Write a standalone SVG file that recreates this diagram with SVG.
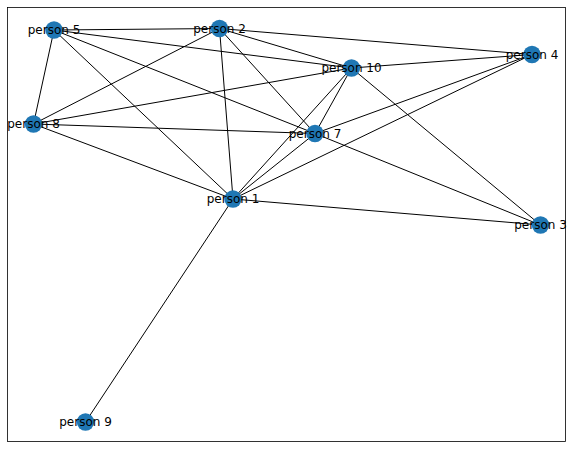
<svg xmlns="http://www.w3.org/2000/svg" width="572" height="449" viewBox="0 0 572 449">
<style>
.e{stroke:#000;stroke-width:1;fill:none}
.n circle{fill:#1f77b4}
.n text{font-family:"DejaVu Sans",sans-serif;font-size:12px;fill:#000;text-anchor:middle;dominant-baseline:central}
</style>
<rect x="0" y="0" width="572" height="449" fill="#fff"/>
<rect x="7.5" y="7.5" width="558" height="434" fill="none" stroke="#000" stroke-width="0.8"/>
<g id="edges">
<line class="e" x1="54" y1="30" x2="219.5" y2="28.5"/>
<line class="e" x1="54" y1="30" x2="351.5" y2="68"/>
<line class="e" x1="54" y1="30" x2="315" y2="133.5"/>
<line class="e" x1="54" y1="30" x2="33.5" y2="124"/>
<line class="e" x1="54" y1="30" x2="233" y2="199"/>
<line class="e" x1="219.5" y1="28.5" x2="532" y2="54.5"/>
<line class="e" x1="219.5" y1="28.5" x2="351.5" y2="68"/>
<line class="e" x1="219.5" y1="28.5" x2="315" y2="133.5"/>
<line class="e" x1="219.5" y1="28.5" x2="233" y2="199"/>
<line class="e" x1="219.5" y1="28.5" x2="33.5" y2="124"/>
<line class="e" x1="33.5" y1="124" x2="351.5" y2="68"/>
<line class="e" x1="33.5" y1="124" x2="315" y2="133.5"/>
<line class="e" x1="33.5" y1="124" x2="233" y2="199"/>
<line class="e" x1="351.5" y1="68" x2="532" y2="54.5"/>
<line class="e" x1="351.5" y1="68" x2="315" y2="133.5"/>
<line class="e" x1="351.5" y1="68" x2="233" y2="199"/>
<line class="e" x1="351.5" y1="68" x2="540.5" y2="225"/>
<line class="e" x1="315" y1="133.5" x2="532" y2="54.5"/>
<line class="e" x1="315" y1="133.5" x2="233" y2="199"/>
<line class="e" x1="315" y1="133.5" x2="540.5" y2="225"/>
<line class="e" x1="233" y1="199" x2="532" y2="54.5"/>
<line class="e" x1="233" y1="199" x2="540.5" y2="225"/>
<line class="e" x1="233" y1="199" x2="85.5" y2="422"/>
</g>
<g id="person1" class="n"><circle cx="233" cy="199" r="8.7"/><text x="233" y="199">person 1</text></g>
<g id="person2" class="n"><circle cx="219.5" cy="28.5" r="8.7"/><text x="219.5" y="28.5">person 2</text></g>
<g id="person3" class="n"><circle cx="540.5" cy="225" r="8.7"/><text x="540.5" y="225">person 3</text></g>
<g id="person4" class="n"><circle cx="532" cy="54.5" r="8.7"/><text x="532" y="54.5">person 4</text></g>
<g id="person5" class="n"><circle cx="54" cy="30" r="8.7"/><text x="54" y="30">person 5</text></g>
<g id="person7" class="n"><circle cx="315" cy="133.5" r="8.7"/><text x="315" y="133.5">person 7</text></g>
<g id="person8" class="n"><circle cx="33.5" cy="124" r="8.7"/><text x="33.5" y="124">person 8</text></g>
<g id="person9" class="n"><circle cx="85.5" cy="422" r="8.7"/><text x="85.5" y="422">person 9</text></g>
<g id="person10" class="n"><circle cx="351.5" cy="68" r="8.7"/><text x="351.5" y="68">person 10</text></g>
</svg>
